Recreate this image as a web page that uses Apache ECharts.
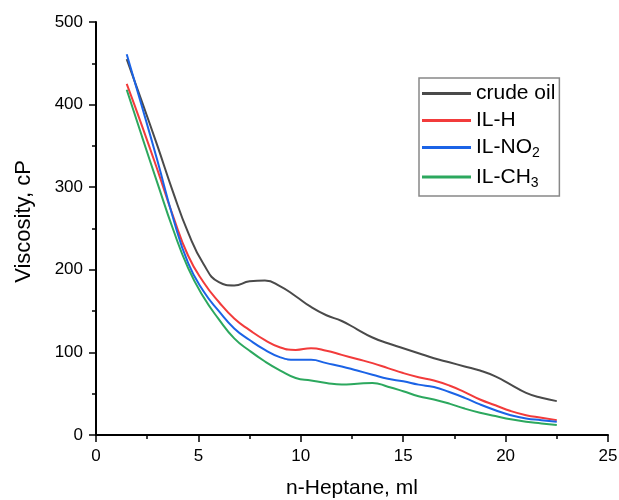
<!DOCTYPE html>
<html>
<head>
<meta charset="utf-8">
<script src="https://cdn.jsdelivr.net/npm/echarts@6/dist/echarts.min.js"></script>
<style>
  html, body { margin: 0; padding: 0; background: #fff; }
  #chart { width: 619px; height: 500px; }
</style>
</head>
<body>
<div id="chart"></div>
<script>
const heptane = [
  1.5, 2.25, 3, 3.75, 4.5, 5.25, 6, 6.75, 7.5, 8.25, 9, 9.75, 10.5, 11.25, 12,
  12.75, 13.5, 14.25, 15, 15.75, 16.5, 17.25, 18, 18.75, 19.5, 20.25, 21, 21.75, 22.5,
];
const crudeOil = [
  455, 403, 350, 295, 245, 207, 185, 181, 186, 187, 180, 168, 155, 145, 138,
  128, 118, 111, 105, 99, 93, 88, 83, 78, 71, 61, 51, 45, 41,
];
const ilH = [
  425, 374, 321, 266, 217, 185, 161, 141, 127, 115, 106, 103, 105, 102, 97,
  92, 87, 81, 75, 70, 66, 60, 52, 43, 36, 29, 24, 21, 18,
];
const ilNO2 = [
  461, 397, 332, 264, 208, 174, 150, 129, 115, 103, 94, 91, 91, 87, 83,
  78, 73, 68, 65, 61, 58, 52, 45, 37, 30, 24, 20, 18, 16,
];
const ilCH3 = [
  418, 361, 305, 250, 202, 167, 140, 117, 102, 89, 78, 69, 66, 63, 61,
  62, 63, 58.5, 53, 47, 43, 38, 32, 27, 23, 19, 16, 14, 12,
];

const seriesNames = ["crude oil", "IL-H", "IL-NO2", "IL-CH3"];
const seriesValues = [crudeOil, ilH, ilNO2, ilCH3];
const seriesColors = ["#4a4a4a", "#f23b3b", "#1b63e6", "#2ca85e"];

const font = "Liberation Sans, Arial, sans-serif";
const chart = echarts.init(document.getElementById("chart"));

const axisCommon = {
  axisLine: { show: true, lineStyle: { color: "#000", width: 2 } },
  axisTick: { show: true, inside: false, length: 7, lineStyle: { color: "#000", width: 1.5 } },
  minorTick: { show: true, splitNumber: 2, length: 4, lineStyle: { color: "#000", width: 1.5 } },
  splitLine: { show: false },
  axisLabel: { color: "#000", fontSize: 17, fontFamily: font, margin: 13 },
  nameLocation: "middle",
};

chart.setOption({
  animation: false,
  backgroundColor: "#fff",
  grid: { left: 96, right: 11, top: 22, bottom: 65, outerBoundsMode: "none" },
  legend: {
    orient: "vertical",
    left: 419,
    top: 78,
    padding: [5, 4, 6, 3],
    itemGap: 6,
    itemWidth: 49,
    itemHeight: 3,
    icon: "rect",
    borderColor: "#888",
    borderWidth: 1.5,
    data: seriesNames,
    formatter(name) {
      if (name === "IL-NO2") return "IL-NO{sub|2}";
      if (name === "IL-CH3") return "IL-CH{sub|3}";
      return name;
    },
    textStyle: {
      color: "#000",
      fontSize: 21,
      fontFamily: font,
      rich: {
        sub: { fontSize: 14, fontFamily: font, color: "#000", padding: [12, 0, 0, 0] },
      },
    },
  },
  xAxis: {
    ...axisCommon,
    type: "value",
    min: 0,
    max: 25,
    interval: 5,
    name: "n-Heptane, ml",
    nameGap: 43,
    nameTextStyle: { color: "#000", fontSize: 21, fontFamily: font },
  },
  yAxis: {
    ...axisCommon,
    type: "value",
    min: 0,
    max: 500,
    interval: 100,
    name: "Viscosity, cP",
    nameGap: 61,
    nameTextStyle: { color: "#000", fontSize: 22, fontFamily: font, padding: [0, 0, 0, 14] },
  },
  series: seriesNames.map((name, i) => ({
    name,
    type: "line",
    smooth: true,
    symbol: "none",
    data: heptane.map((x, j) => [x, seriesValues[i][j]]),
    lineStyle: { color: seriesColors[i], width: 2 },
    itemStyle: { color: seriesColors[i] },
  })),
});
</script>
</body>
</html>
